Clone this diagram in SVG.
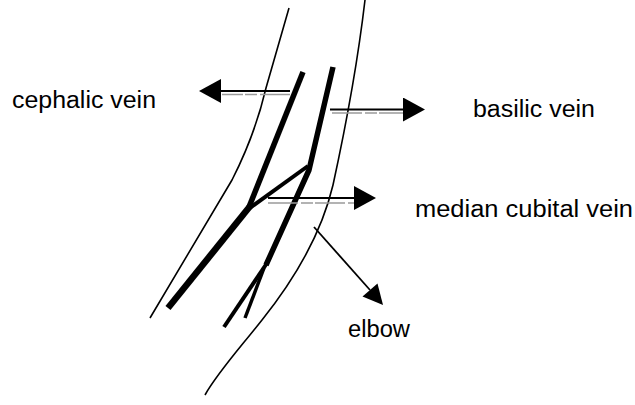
<svg xmlns="http://www.w3.org/2000/svg" width="635" height="405" viewBox="0 0 635 405">
  <style>
    .outline { fill: none; stroke: #000; stroke-width: 1.6; }
    .vein { fill: none; stroke: #000; stroke-linecap: butt; stroke-linejoin: round; }
    .shaft { stroke: #000; stroke-width: 1.8; }
    .shadow { stroke: #9a9a9a; stroke-width: 1.4; stroke-dasharray: 30 3 12 2; }
    .label { font-family: "Liberation Sans", Arial, sans-serif; font-size: 23px; fill: #000; }
  </style>
  <defs>
    <marker id="head" markerUnits="userSpaceOnUse" markerWidth="22" markerHeight="24" viewBox="0 0 22 24" refX="0" refY="12" orient="auto">
      <path d="M0,0 L22,12 L0,24 z" fill="#000"/>
    </marker>
  </defs>

  <!-- arm outline -->
  <g id="arm">
    <path class="outline" d="M289,8 L266,88 Q255,135 232,180 L150,318"/>
    <path class="outline" d="M365,0 C358,60 345,130 333,185 C320,240 290,285 262,320 C240,348 218,372 205,395"/>
  </g>

  <!-- veins -->
  <g id="cephalic">
    <path class="vein" stroke-width="5.5" d="M303,72 L249,207"/>
    <path class="vein" stroke-width="6.5" d="M251,205 L168,308"/>
  </g>
  <g id="median-cubital">
    <path class="vein" stroke-width="4" d="M247,210 L308,166"/>
  </g>
  <g id="basilic">
    <path class="vein" stroke-width="5.5" d="M333,67 L309,170 L266,265"/>
    <path class="vein" stroke-width="4" d="M267,263 L224,327"/>
    <path class="vein" stroke-width="3.5" d="M264,268 L245,318"/>
  </g>

  <!-- pointer arrows -->
  <g id="connectors">
    <line class="shaft" x1="290" y1="91" x2="221" y2="91" marker-end="url(#head)"/>
    <line class="shadow" x1="290" y1="94.5" x2="222" y2="94.5"/>
    <line class="shaft" x1="330" y1="109.5" x2="403" y2="109.5" marker-end="url(#head)"/>
    <line class="shadow" x1="332" y1="113" x2="403" y2="113"/>
    <line class="shaft" x1="268" y1="198" x2="354" y2="198" marker-end="url(#head)"/>
    <line class="shadow" x1="268" y1="203" x2="354" y2="203"/>
    <line class="shaft" x1="314" y1="227" x2="370" y2="290"/>
    <path d="M362.5,296.6 L377.5,283.4 L383,305 z" fill="#000"/>
  </g>

  <!-- labels -->
  <g id="labels">
    <text class="label" x="12" y="108" textLength="144" lengthAdjust="spacingAndGlyphs">cephalic vein</text>
    <text class="label" x="473" y="117" textLength="122" lengthAdjust="spacingAndGlyphs">basilic vein</text>
    <text class="label" x="415" y="217" textLength="218" lengthAdjust="spacingAndGlyphs">median cubital vein</text>
    <text class="label" x="348" y="337" textLength="62" lengthAdjust="spacingAndGlyphs">elbow</text>
  </g>
</svg>
